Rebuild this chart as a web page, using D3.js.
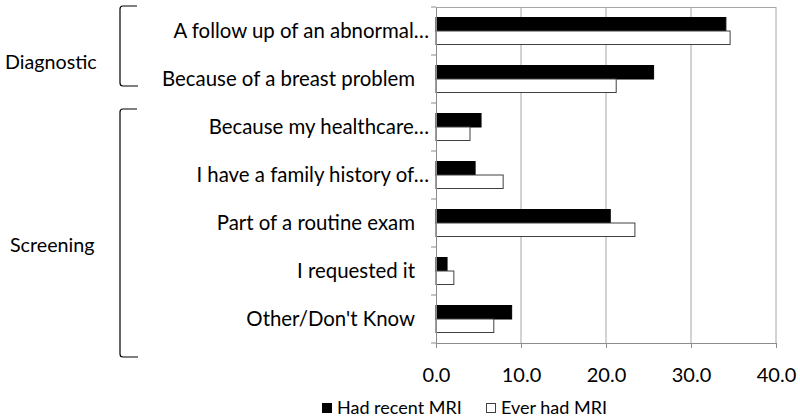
<!DOCTYPE html>
<html><head><meta charset="utf-8">
<script src="https://cdn.jsdelivr.net/npm/d3@7"></script>
<style>body{margin:0;background:#fff;} svg{display:block;font-family:Lato, "Open Sans", sans-serif;}</style>
</head><body>
<svg id="c" width="800" height="418"></svg>
<script>
const categories = ["A follow up of an abnormal…","Because of a breast problem","Because my healthcare…","I have a family history of…","Part of a routine exam","I requested it","Other/Don't Know"];
const recentMRI = [34.1, 25.6, 5.3, 4.6, 20.5, 1.3, 8.9];
const everMRI = [34.6, 21.2, 4.0, 7.9, 23.4, 2.1, 6.8];
const seriesNames = ["Had recent MRI","Ever had MRI"];
const xTicks = [0, 10, 20, 30, 40];
const groups = [{name:"Diagnostic", from:0, to:1},{name:"Screening", from:2, to:6}];

const svg = d3.select("#c");
const L = 436, R = 776, T = 7, B = 343;
const x = d3.scaleLinear().domain([0,40]).range([L,R]);
const y = d3.scaleBand().domain(categories).range([T,B]);
const inner = d3.scaleBand().domain(seriesNames).range([10, y.bandwidth()-11]);

// gridlines
svg.append("g").selectAll("line").data(xTicks.slice(1)).join("line")
  .attr("x1", d=>x(d)).attr("x2", d=>x(d)).attr("y1", T).attr("y2", B)
  .attr("stroke", "#a6a6a6").attr("stroke-width", 1);
// top border
svg.append("line").attr("x1",L).attr("x2",R).attr("y1",T+0.5).attr("y2",T+0.5).attr("stroke","#a6a6a6");

// bars
const rows = categories.map((c,i)=>({c, v:[recentMRI[i], everMRI[i]]}));
const g = svg.append("g");
rows.forEach(r=>{
  seriesNames.forEach((s,j)=>{
    g.append("rect")
      .attr("x", x(0)).attr("y", y(r.c)+inner(s)+0.5)
      .attr("width", x(r.v[j])-x(0)).attr("height", inner.bandwidth())
      .attr("fill", j===0 ? "#000" : "#fff")
      .attr("stroke", j===0 ? "#000" : "#404040").attr("stroke-width", 1);
  });
});

// x axis
const xa = svg.append("g").attr("transform", `translate(0,${B})`)
  .call(d3.axisBottom(x).tickValues(xTicks).tickFormat(d3.format(".1f")).tickSize(5).tickPadding(20));
xa.select(".domain").attr("stroke","#8c8c8c");
xa.selectAll(".tick line").attr("stroke","#8c8c8c");
xa.selectAll("text").attr("font-size", 20).attr("fill","#000").attr("font-family","Lato");

// y axis
const ya = svg.append("g").attr("transform", `translate(${L},0)`)
  .call(d3.axisLeft(y).tickValues([]).tickSize(0));
ya.select(".domain").attr("stroke","#8c8c8c");
ya.append("g").selectAll("line").data(d3.range(categories.length+1)).join("line")
  .attr("x1",-5).attr("x2",0).attr("y1", i=>T+i*y.step()).attr("y2", i=>T+i*y.step())
  .attr("stroke","#8c8c8c");

// category labels
svg.append("g").selectAll("text").data(categories).join("text")
  .attr("x", d => d.endsWith("…") ? 429 : 415)
  .attr("y", d => y(d)+y.bandwidth()/2)
  .attr("dy","0.35em").attr("text-anchor","end")
  .attr("font-size",20.4).attr("fill","#000").text(d=>d);

// group braces and labels
groups.forEach(gr=>{
  const y0 = gr.from===0 ? 6 : 109;
  const y1 = gr.from===0 ? 86 : 357;
  svg.append("path")
    .attr("d", `M137,${y0} L123,${y0} Q120,${y0} 120,${y0+3} L120,${y1-3} Q120,${y1} 123,${y1} L138,${y1}`)
    .attr("fill","none").attr("stroke","#000").attr("stroke-width",1.2);
  svg.append("text").attr("x", gr.from===0 ? 5 : 10).attr("y", gr.from===0 ? 62 : 245)
    .attr("dy","0.35em").attr("font-size",19.7).attr("fill","#000").text(gr.name);
});

// legend
const leg = svg.append("g");
const legX = [322, 486];
seriesNames.forEach((s,j)=>{
  leg.append("rect").attr("x", legX[j]+0.5).attr("y", 403.5).attr("width", 9).attr("height", 9)
    .attr("fill", j===0?"#000":"#fff").attr("stroke", j===0?"#000":"#404040");
  leg.append("text").attr("x", legX[j]+15).attr("y", 408).attr("dy","0.35em")
    .attr("font-size",18).attr("fill","#000").text(s);
});
</script>
</body></html>
